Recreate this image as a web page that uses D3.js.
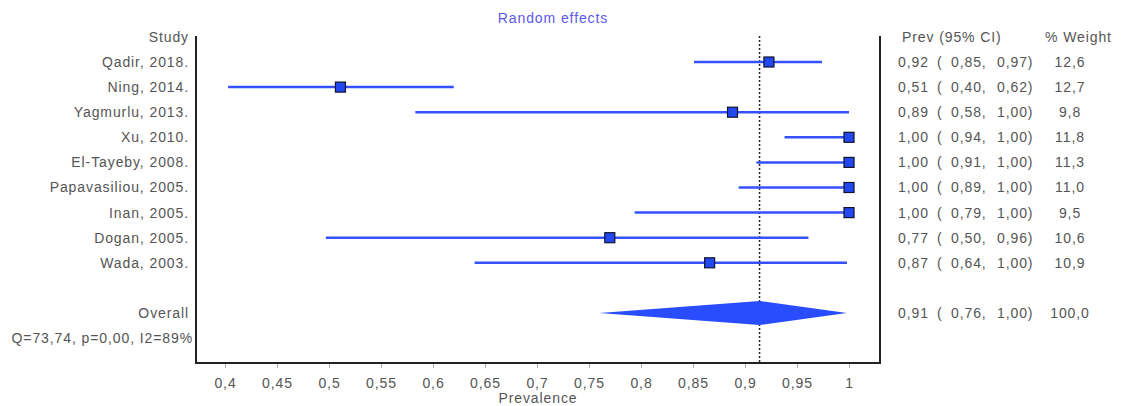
<!DOCTYPE html>
<meta charset="utf-8">
<style>
  body { margin: 0; background: #fff; }
  svg text {
    font-family: "Liberation Sans", Arial, sans-serif;
    font-size: 14px;
    letter-spacing: 0.9px;
    fill: #555;
  }
  .axis path { display: none; }
  .axis line { stroke: #aaa; }
</style>

<div class="forest"></div>

<script src="https://cdn.jsdelivr.net/npm/d3@7/dist/d3.min.js"></script>

<script>
    // study level data
    var studies = ["Qadir, 2018.", "Ning, 2014.", "Yagmurlu, 2013.", "Xu, 2010.", "El-Tayeby, 2008.",
                   "Papavasiliou, 2005.", "Inan, 2005.", "Dogan, 2005.", "Wada, 2003."];
    var prev   = [0.923, 0.511, 0.888, 1.0, 1.0, 1.0, 1.0, 0.77, 0.866];
    var lower  = [0.851, 0.403, 0.583, 0.938, 0.911, 0.894, 0.794, 0.497, 0.64];
    var upper  = [0.974, 0.62, 1.0, 1.0, 1.0, 1.0, 1.0, 0.961, 0.998];
    var weight = [12.6, 12.7, 9.8, 11.8, 11.3, 11.0, 9.5, 10.6, 10.9];

    // pooled estimate
    var overall = {prev: 0.914, lower: 0.76, upper: 0.998, weight: 100.0};
    var hetero = "Q=73,74, p=0,00, I2=89%";

    var xTicks = [0.4, 0.45, 0.5, 0.55, 0.6, 0.65, 0.7, 0.75, 0.8, 0.85, 0.9, 0.95, 1];

    var width = 1124, height = 406;
    var box = {left: 196, right: 880, top: 36, bottom: 363};

    var fmt = (v, d) => v.toFixed(d).replace(".", ",");

    var x = d3.scaleLinear()
        .domain([0.4, 1])
        .range([225, 849]);

    // row index -> vertical position (header is -1, overall 10, Q line 11)
    var y = d3.scaleLinear()
        .domain([0, 10])
        .range([62, 313]);

    var data = studies.map((s, i) => ({
        name: s, prev: prev[i], lower: lower[i], upper: upper[i], weight: weight[i], row: i
    }));

    var svg = d3.select(".forest")
        .append("svg")
        .attr("width", width)
        .attr("height", height);

    // title
    svg.append("text")
        .attr("x", 553)
        .attr("y", 18)
        .attr("dy", "0.35em")
        .attr("text-anchor", "middle")
        .style("fill", "#5a5af0")
        .text("Random effects");

    // frame: left, right, bottom
    svg.append("path")
        .attr("d", "M" + box.left + "," + box.top + "V" + box.bottom + "H" + box.right + "V" + box.top)
        .attr("fill", "none")
        .attr("stroke", "#222")
        .attr("stroke-width", 2);

    // x axis
    svg.append("g")
        .attr("class", "axis")
        .attr("transform", "translate(0," + (box.bottom + 1) + ")")
        .call(d3.axisBottom(x).tickValues(xTicks).tickSize(4).tickPadding(10)
              .tickFormat((d) => String(d).replace(".", ",")))
        .selectAll("text")
        .style("font-size", "14px")
        .style("fill", "#555");

    svg.append("text")
        .attr("x", (box.left + box.right) / 2)
        .attr("y", 398)
        .attr("dy", "0.35em")
        .attr("text-anchor", "middle")
        .text("Prevalence");

    // pooled estimate reference line
    svg.append("line")
        .attr("x1", x(overall.prev)).attr("x2", x(overall.prev))
        .attr("y1", box.top).attr("y2", box.bottom)
        .attr("stroke", "#222")
        .attr("stroke-width", 1.5)
        .attr("stroke-dasharray", "2,2");

    // confidence intervals
    svg.selectAll(".ci")
        .data(data)
        .enter().append("line")
        .attr("class", "ci")
        .attr("x1", (d) => x(d.lower))
        .attr("x2", (d) => x(d.upper))
        .attr("y1", (d) => y(d.row))
        .attr("y2", (d) => y(d.row))
        .attr("stroke", "#3550ff")
        .attr("stroke-width", 2.5);

    var sq = 10;
    svg.selectAll(".pt")
        .data(data)
        .enter().append("rect")
        .attr("class", "pt")
        .attr("x", (d) => x(d.prev) - sq / 2)
        .attr("y", (d) => y(d.row) - sq / 2)
        .attr("width", sq)
        .attr("height", sq)
        .attr("fill", "#2248f0")
        .attr("stroke", "#111130")
        .attr("stroke-width", 1.2);

    // diamond
    var oy = y(10);
    svg.append("polygon")
        .attr("points", [
            [x(overall.lower), oy],
            [x(overall.prev), oy - 12],
            [x(overall.upper), oy],
            [x(overall.prev), oy + 12]
        ].map((p) => p.join(",")).join(" "))
        .attr("fill", "#2a4cff");

    // left labels
    var left = svg.append("g").attr("text-anchor", "end");
    left.append("text").attr("x", 189).attr("y", y(-1)).attr("dy", "0.35em").text("Study");
    left.selectAll(".study")
        .data(data)
        .enter().append("text")
        .attr("class", "study")
        .attr("x", 189)
        .attr("y", (d) => y(d.row))
        .attr("dy", "0.35em")
        .text((d) => d.name);
    left.append("text").attr("x", 189).attr("y", y(10)).attr("dy", "0.35em").text("Overall");
    left.append("text").attr("x", 193).attr("y", y(11)).attr("dy", "0.35em").text(hetero);

    // right table
    var right = svg.append("g");
    right.append("text").attr("x", 902).attr("y", y(-1)).attr("dy", "0.35em").text("Prev (95% CI)");
    right.append("text").attr("x", 1045).attr("y", y(-1)).attr("dy", "0.35em").text("% Weight");

    var rows = data.concat([Object.assign({row: 10}, overall)]);
    var r = right.selectAll(".row")
        .data(rows)
        .enter().append("g")
        .attr("class", "row")
        .attr("transform", (d) => "translate(0," + y(d.row) + ")");

    r.append("text").attr("x", 898).attr("dy", "0.35em").text((d) => fmt(d.prev, 2));
    r.append("text").attr("x", 937).attr("dy", "0.35em").text("(");
    r.append("text").attr("x", 951).attr("dy", "0.35em").text((d) => fmt(d.lower, 2) + ",");
    r.append("text").attr("x", 997).attr("dy", "0.35em").text((d) => fmt(d.upper, 2) + ")");
    r.append("text").attr("x", 1070).attr("dy", "0.35em").attr("text-anchor", "middle")
        .text((d) => fmt(d.weight, 1));
</script>
